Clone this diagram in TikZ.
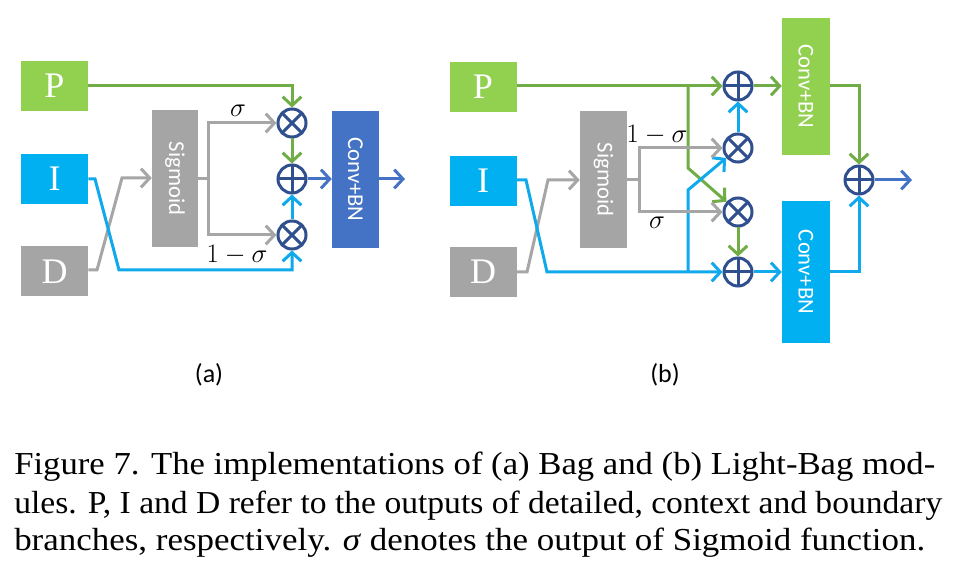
\RequirePackage{fix-cm}
\documentclass[tikz,border=0pt]{standalone}
\usepackage{fontspec}
\setmainfont{Liberation Serif}
\setsansfont{Carlito}
\usetikzlibrary{arrows.meta}
\definecolor{gbox}{HTML}{92D050}
\definecolor{gline}{HTML}{70AD47}
\definecolor{bbox}{HTML}{00B0F0}
\definecolor{bline}{HTML}{0FA9EC}
\definecolor{grbox}{HTML}{A5A5A5}
\definecolor{grline}{HTML}{A6A6A6}
\definecolor{cblue}{HTML}{4472C4}
\definecolor{opc}{HTML}{2F4F8F}
\newlength\capwd
\newcommand\capfont{\fontsize{24}{28}\selectfont}
\newcommand\capline[2]{\settowidth\capwd{\capfont #2}\pgfmathsetmacro\capsx{#1/\capwd}\scalebox{\capsx}[1]{\capfont #2}}
\begin{document}
\begin{tikzpicture}[x=0.75pt,y=-0.75pt,
  box/.style={draw=none, inner sep=0pt, text=white},
  letterbox/.style={box, minimum width=50.25pt, minimum height=37.5pt, font=\fontsize{27}{31}\selectfont},
  vbox/.style={box, minimum width=35pt, minimum height=102.75pt, font=\sffamily\fontsize{17}{20}\selectfont},
  op/.style={circle, draw=opc, line width=2.25pt, minimum size=21pt, inner sep=0pt},
  otimesop/.style={op, path picture={\draw[opc, line width=2.25pt] (path picture bounding box.north west) -- (path picture bounding box.south east) (path picture bounding box.north east) -- (path picture bounding box.south west);}},
  oplusop/.style={op, path picture={\draw[opc, line width=2.25pt] (path picture bounding box.north) -- (path picture bounding box.south) (path picture bounding box.west) -- (path picture bounding box.east);}},
  arr/.style={line width=2.25pt, -{Straight Barb[length=6.5pt,width=14pt]}},
  mathlab/.style={inner sep=0pt, font=\fontsize{20}{23}\selectfont},
  sublab/.style={inner sep=0pt, font=\sffamily\fontsize{19.5}{22}\selectfont},
]
\useasboundingbox[fill=white] (0,0) rectangle (960,577);

% ---------------- panel (a) ----------------
\node[letterbox, fill=gbox] (Pa) at (54.5,86) {P};
\node[letterbox, fill=bbox] (Ia) at (54.5,179) {I};
\node[letterbox, fill=grbox] (Da) at (54.5,271.5) {D};
\node[vbox, fill=grbox, minimum width=34.5pt] (Sa) at (175,178.5) {\rotatebox{-90}{Sigmoid}};
\node[vbox, fill=cblue, minimum width=35.25pt] (Ca) at (355.5,179.5) {\rotatebox{-90}{Conv+BN}};
\node[otimesop] (m1a) at (292,123) {};
\node[oplusop] (a1a) at (292,179) {};
\node[otimesop] (m2a) at (292,235) {};

\coordinate (ja) at (208,179);
\coordinate (da1) at (97,270);
\coordinate (da2) at (122,178);
\coordinate (ia1) at (95,179);
\coordinate (ia2) at (119,270);
\coordinate (oa) at (405,179);

\draw[arr, grline] (Da.east |- da1) -- (da1) -- (da2) -- (Sa.west |- da2);
\draw[arr, bline] (Ia.east) -- (ia1) -- (ia2) -| (m2a);
\draw[arr, gline] (Pa.east) -| (m1a);
\draw[arr, grline] (Sa.east |- ja) -- (ja) |- (m1a);
\draw[arr, grline] (ja) |- (m2a);
\draw[arr, gline] (m1a) -- (a1a);
\draw[arr, bline] (m2a) -- (a1a);
\draw[arr, cblue] (a1a) -- (a1a -| Ca.west);
\draw[arr, cblue] (Ca.east |- oa) -- (oa);

\node[mathlab] (sa1) at (238,111) {$\sigma$};
\node[mathlab] (sa2) at (237,255) {$1-\sigma$};
\node[sublab] (capa) at (209,375) {(a)};

% ---------------- panel (b) ----------------
\node[letterbox, fill=gbox] (Pb) at (483,87) {P};
\node[letterbox, fill=bbox] (Ib) at (483,181) {I};
\node[letterbox, fill=grbox] (Db) at (483,272) {D};
\node[vbox, fill=grbox, minimum width=35.25pt] (Sb) at (603.5,179.5) {\rotatebox{-90}{Sigmoid}};
\node[vbox, fill=gbox, minimum width=36pt] (CGb) at (806,86.5) {\rotatebox{-90}{Conv+BN}};
\node[vbox, fill=bbox, minimum width=36pt, minimum height=106.5pt] (CBb) at (806,272) {\rotatebox{-90}{Conv+BN}};
\node[oplusop] (a1b) at (738,86) {};
\node[otimesop] (m1b) at (738,148) {};
\node[otimesop] (m2b) at (738,212) {};
\node[oplusop] (a2b) at (738,272) {};
\node[oplusop] (a3b) at (859,180) {};

\coordinate (jb) at (639,180);
\coordinate (db1) at (527,272);
\coordinate (db2) at (548,180);
\coordinate (ib1) at (526,180);
\coordinate (ib2) at (547,272);
\coordinate (pb1) at (688,86);
\coordinate (pb2) at (688,168);
\coordinate (ib3) at (688,272);
\coordinate (ib4) at (688,190);
\coordinate (ob) at (912,180);

\draw[arr, grline] (Db.east) -- (db1) -- (db2) -- (Sb.west |- db2);
\draw[arr, bline] (Ib.east |- ib1) -- (ib1) -- (ib2) -- (a2b);
\draw[arr, gline] (Pb.east |- a1b) -- (a1b);
\draw[arr, gline] (pb1) -- (pb2) -- (m2b);
\draw[arr, bline] (ib3) -- (ib4) -- (m1b);
\draw[arr, grline] (Sb.east |- jb) -- (jb) |- (m1b);
\draw[arr, grline] (jb) |- (m2b);
\draw[arr, bline] (m1b) -- (a1b);
\draw[arr, gline] (m2b) -- (a2b);
\draw[arr, gline] (a1b) -- (a1b -| CGb.west);
\draw[arr, bline] (a2b) -- (a2b -| CBb.west);
\draw[arr, gline] (CGb.east |- a1b) -| (a3b);
\draw[arr, bline] (CBb.east |- a2b) -| (a3b);
\draw[arr, cblue] (a3b) -- (ob);

\node[mathlab] (sb1) at (657,135) {$1-\sigma$};
\node[mathlab] (sb2) at (657,223) {$\sigma$};
\node[sublab] (capb) at (665,375) {(b)};

% ---------------- caption ----------------
\node[anchor=base west, inner sep=0pt] (cap1) at (14,474) {\capline{690.75}{Figure 7. The implementations of (a) Bag and (b) Light-Bag mod-}};
\node[anchor=base west, inner sep=0pt] (cap2) at (14,513) {\capline{696}{ules. P, I and D refer to the outputs of detailed, context and boundary}};
\node[anchor=base west, inner sep=0pt] (cap3) at (14,550) {\capline{683.25}{branches, respectively. \textit{σ} denotes the output of Sigmoid function.}};
\end{tikzpicture}
\end{document}
